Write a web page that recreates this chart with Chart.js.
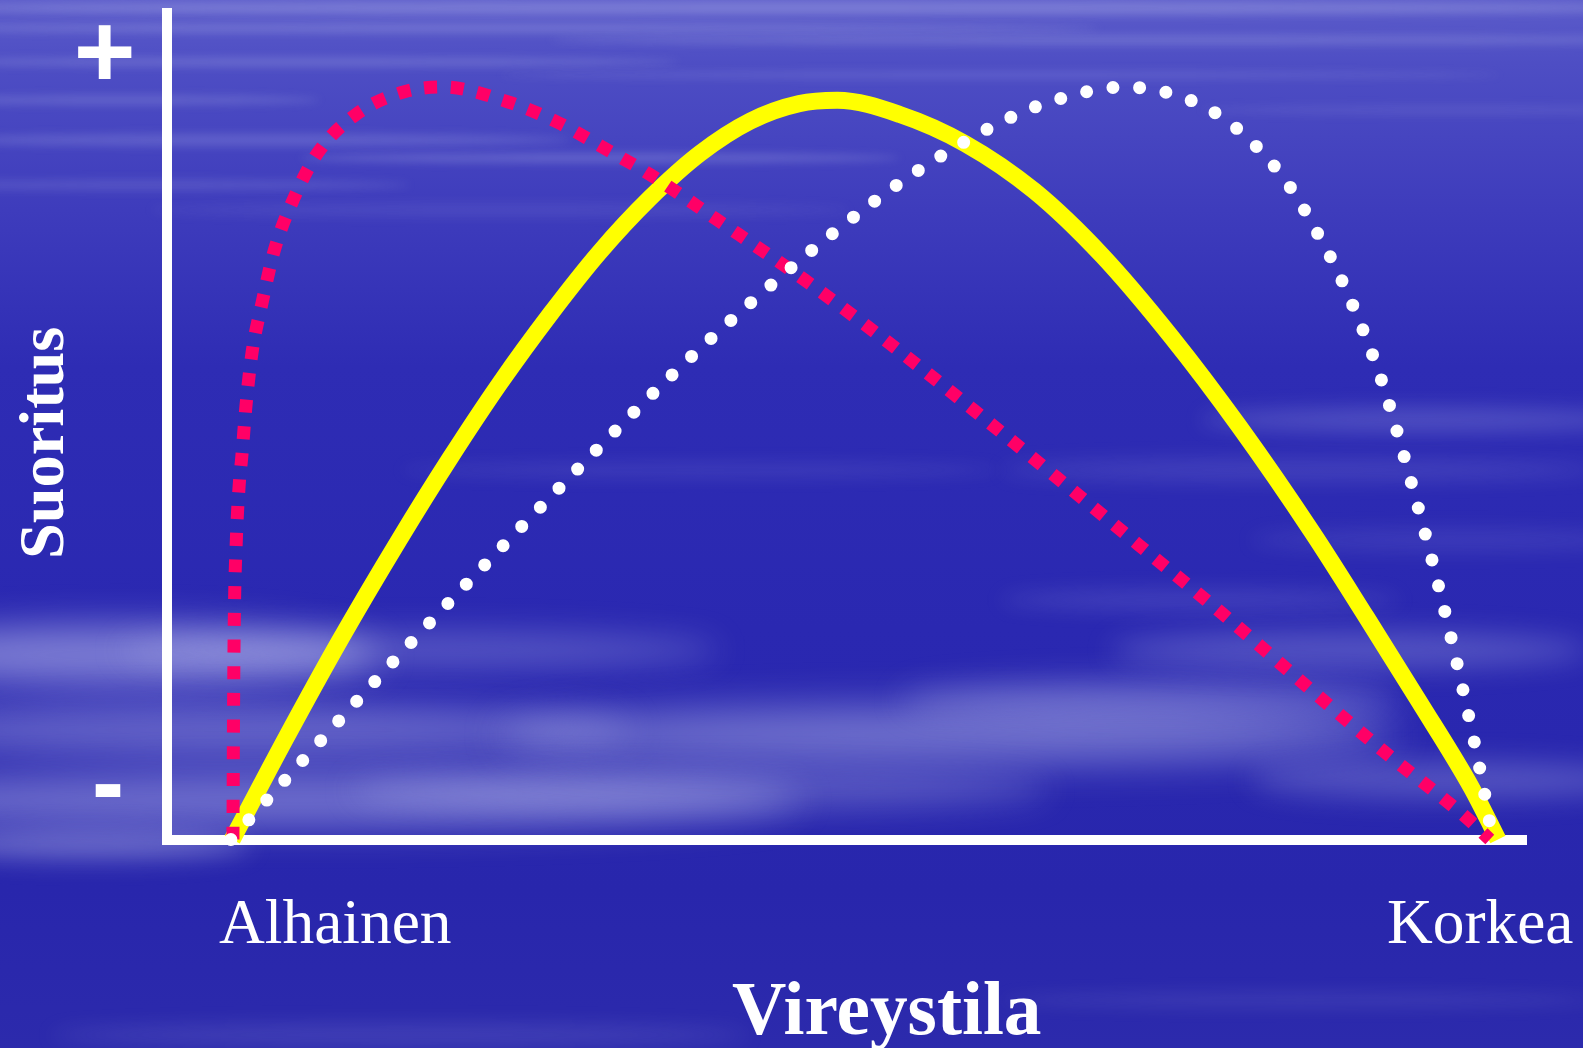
<!DOCTYPE html>
<html>
<head>
<meta charset="utf-8">
<script src="https://cdn.jsdelivr.net/npm/chart.js@4"></script>
<style>
  html, body { margin: 0; padding: 0; background: #2a28b0; }
  canvas { display: block; }
</style>
</head>
<body>
<canvas id="myChart" width="1583" height="1048"></canvas>
<script>
// Vireystila (x) ja suoritus (y), 0..100
const keskiX = [4.8, 8.75, 12.7, 17.1, 20.8, 24.5, 28.2, 31.8, 35.5, 39.2, 42.9, 46.5, 49.3, 53.9, 58.7, 63.8, 68.8, 73.9, 78.9, 84.3, 88.2, 92.1, 96.0, 97.9];
const keskiY = [0, 12.2, 23.9, 36.1, 45.8, 54.9, 63.2, 70.6, 77.1, 82.5, 86.4, 88.5, 88.9, 87.2, 83.7, 78.0, 70.2, 60.4, 49.6, 36.8, 26.8, 16.6, 6.1, 0];

const vaikeaX = [4.85, 4.9, 4.95, 5.1, 5.3, 5.5, 5.8, 6.25, 7.0, 7.9, 9.3, 11.1, 13.9, 17.4, 20.3, 25.1, 28.8, 32.1, 35.6, 40.4, 46.9, 53.2, 59.3, 65.4, 71.5, 77.6, 83.5, 89.5, 95.6, 97.3];
const vaikeaY = [0, 16.8, 26.4, 36.0, 42.4, 46.0, 52.0, 58.5, 64.6, 70.9, 77.0, 82.6, 87.2, 89.9, 90.5, 88.7, 86.2, 83.2, 79.9, 74.6, 67.3, 59.6, 51.7, 43.6, 35.4, 27.2, 18.9, 10.6, 2.6, 0];

const helppoX = [4.7, 17.9, 31.5, 37.1, 42.9, 48.9, 55.2, 62.0, 65.7, 70.4, 73.4, 77.0, 80.1, 82.6, 84.6, 86.4, 89.3, 91.5, 93.5, 95.3, 96.9, 97.5];
const helppoY = [0, 23.6, 46.7, 55.8, 64.5, 72.8, 80.4, 86.8, 89.1, 90.5, 89.9, 87.5, 83.4, 78.5, 73.0, 67.3, 55.4, 43.1, 30.7, 18.2, 5.7, 0];

const xPaat = ["Alhainen", "Korkea"];
const yPaat = ["+", "-"];
const xOtsikko = "Vireystila";
const yOtsikko = "Suoritus";

// pilviraidat taustalle: x, y, rx, ry, peitto, sumennus
const pilvet = [
  [800, 8, 900, 7, 0.28, 5], [500, 28, 600, 5, 0.22, 4], [1150, 40, 600, 5, 0.2, 4],
  [300, 62, 380, 5, 0.2, 4], [1000, 75, 500, 4, 0.14, 4], [120, 100, 200, 5, 0.18, 4],
  [250, 140, 320, 6, 0.2, 5], [600, 158, 300, 5, 0.22, 4], [150, 185, 260, 5, 0.16, 5],
  [500, 210, 350, 6, 0.1, 6], [1450, 110, 250, 5, 0.1, 5],
  [1420, 420, 220, 12, 0.22, 10], [1300, 470, 300, 10, 0.15, 10], [1450, 540, 200, 10, 0.12, 10],
  [120, 655, 260, 30, 0.5, 18], [420, 650, 300, 18, 0.28, 16], [250, 730, 380, 25, 0.38, 18],
  [300, 800, 500, 28, 0.42, 18], [950, 735, 450, 28, 0.45, 20], [1150, 700, 250, 18, 0.32, 16],
  [700, 790, 350, 20, 0.28, 16], [1350, 650, 240, 18, 0.27, 14], [1450, 780, 200, 18, 0.27, 14],
  [90, 845, 160, 14, 0.38, 12], [1200, 600, 200, 10, 0.15, 10], [700, 470, 300, 8, 0.10, 8],
  [400, 1035, 350, 10, 0.15, 10], [1300, 1000, 300, 8, 0.10, 8]
];

function pisteet(xs, ys) {
  return xs.map((x, i) => ({ x: x, y: ys[i] }));
}

const taustaPlugin = {
  id: "tausta",
  beforeDraw(chart) {
    const { ctx, width, height } = chart;
    ctx.save();
    const g = ctx.createLinearGradient(0, 0, 0, height);
    g.addColorStop(0, "rgb(92,92,202)");
    g.addColorStop(0.06, "rgb(78,78,196)");
    g.addColorStop(0.2, "rgb(62,60,188)");
    g.addColorStop(0.35, "rgb(46,44,180)");
    g.addColorStop(0.6, "rgb(42,40,177)");
    g.addColorStop(0.85, "rgb(40,38,172)");
    g.addColorStop(1, "rgb(44,42,172)");
    ctx.fillStyle = g;
    ctx.fillRect(0, 0, width, height);
    for (const [cx, cy, rx, ry, a, b] of pilvet) {
      ctx.filter = `blur(${b}px)`;
      ctx.fillStyle = `rgba(205,208,245,${a})`;
      ctx.beginPath();
      ctx.ellipse(cx, cy, rx, ry, 0, 0, Math.PI * 2);
      ctx.fill();
    }
    ctx.restore();
  }
};

// teksti venytetään annettuun laatikkoon
function laatikkoon(ctx, teksti, fontti, x0, y0, x1, y1) {
  ctx.font = fontti;
  const m = ctx.measureText(teksti);
  const w = m.actualBoundingBoxLeft + m.actualBoundingBoxRight;
  const h = m.actualBoundingBoxAscent + m.actualBoundingBoxDescent;
  ctx.save();
  ctx.translate(x0, y0);
  ctx.scale((x1 - x0) / w, (y1 - y0) / h);
  ctx.fillText(teksti, m.actualBoundingBoxLeft, m.actualBoundingBoxAscent);
  ctx.restore();
}

// sana perusviivalle niin, että leveys täsmää
function riville(ctx, teksti, painos, vasen, oikea, perus) {
  ctx.font = `${painos} 100px "Liberation Serif"`;
  let m = ctx.measureText(teksti);
  const koko = 100 * (oikea - vasen) / (m.actualBoundingBoxLeft + m.actualBoundingBoxRight);
  ctx.font = `${painos} ${koko}px "Liberation Serif"`;
  m = ctx.measureText(teksti);
  ctx.fillText(teksti, vasen + m.actualBoundingBoxLeft, perus);
}

const tekstiPlugin = {
  id: "tekstit",
  afterDraw(chart) {
    const ctx = chart.ctx;
    ctx.save();
    ctx.fillStyle = "#ffffff";
    ctx.textAlign = "left";
    ctx.textBaseline = "alphabetic";
    laatikkoon(ctx, yPaat[0], 'bold 100px "Liberation Sans"', 78, 25, 132, 79);
    laatikkoon(ctx, yPaat[1], 'bold 100px "Liberation Sans"', 95, 784, 121, 797);
    riville(ctx, xPaat[0], "normal", 219, 451, 943);
    riville(ctx, xPaat[1], "normal", 1388, 1573, 943);
    riville(ctx, xOtsikko, "bold", 732, 1040, 1034);
    ctx.save();
    ctx.translate(63, 556);
    ctx.rotate(-Math.PI / 2);
    riville(ctx, yOtsikko, "bold", 0, 228, 0);
    ctx.restore();
    ctx.restore();
  }
};

const canvas = document.getElementById("myChart");
new Chart(canvas, {
  type: "line",
  data: {
    datasets: [
      {
        label: "keskivaikea",
        data: pisteet(keskiX, keskiY),
        borderColor: "#ffff00",
        borderWidth: 17,
        borderCapStyle: "butt",
        order: 3,
      },
      {
        label: "vaikea",
        data: pisteet(vaikeaX, vaikeaY),
        borderColor: "#ff0066",
        borderWidth: 13,
        borderDash: [13, 13.7],
        borderCapStyle: "butt",
        order: 2,
      },
      {
        label: "helppo",
        data: pisteet(helppoX, helppoY),
        borderColor: "#ffffff",
        borderWidth: 13,
        borderDash: [0, 26.7],
        borderCapStyle: "round",
        order: 1,
      },
    ],
  },
  options: {
    responsive: false,
    animation: false,
    layout: { padding: { left: 167, right: 56.5, top: 13, bottom: 208.5 } },
    elements: {
      point: { radius: 0, hoverRadius: 0 },
      line: { cubicInterpolationMode: "monotone", fill: false },
    },
    datasets: { line: { clip: false } },
    scales: {
      x: {
        type: "linear",
        min: 0,
        max: 100,
        ticks: { display: false },
        grid: { display: false },
        border: { display: true, color: "#ffffff", width: 10 },
        afterFit: (s) => { s.height = 0; },
      },
      y: {
        min: 0,
        max: 99.4,
        ticks: { display: false },
        grid: { display: false },
        border: { display: true, color: "#ffffff", width: 10 },
        afterFit: (s) => { s.width = 0; },
      },
    },
    plugins: {
      legend: { display: false },
      tooltip: { enabled: false },
    },
  },
  plugins: [taustaPlugin, tekstiPlugin],
});
</script>
</body>
</html>
